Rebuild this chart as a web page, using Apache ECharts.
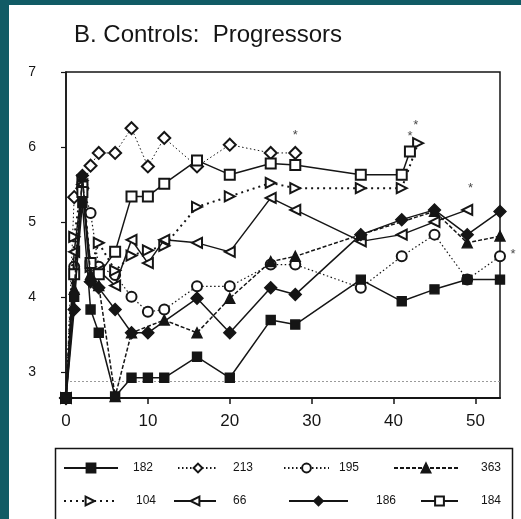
<!DOCTYPE html>
<html>
<head>
<meta charset="utf-8">
<script src="https://cdn.jsdelivr.net/npm/echarts@6/dist/echarts.min.js"></script>
<style>
  html, body { margin: 0; padding: 0; }
  #chart { width: 521px; height: 519px; }
</style>
</head>
<body>
<div id="chart"></div>
<script>
// Weeks of follow-up and measured values per subject
const weeks182 = [0, 1, 2, 3, 4, 6, 8, 10, 12, 16, 20, 25, 28, 36, 41, 45, 49, 53];
const vals182  = [2.65, 4.0, 5.25, 3.83, 3.52, 2.67, 2.92, 2.92, 2.92, 3.2, 2.92, 3.69, 3.63, 4.23, 3.94, 4.1, 4.23, 4.23];

const weeks213 = [0, 1, 2, 3, 4, 6, 8, 10, 12, 16, 20, 25, 28];
const vals213  = [2.65, 5.33, 5.45, 5.75, 5.92, 5.92, 6.25, 5.74, 6.12, 5.74, 6.03, 5.92, 5.92];

const weeks195 = [0, 1, 2, 3, 4, 6, 8, 10, 12, 16, 20, 25, 28, 36, 41, 45, 49, 53];
const vals195  = [2.65, 4.4, 5.5, 5.12, 4.4, 4.29, 4.0, 3.8, 3.83, 4.14, 4.14, 4.43, 4.43, 4.12, 4.54, 4.83, 4.23, 4.54];

const weeks363 = [0, 1, 2, 3, 4, 6, 8, 12, 16, 20, 25, 28, 36, 45, 49, 53];
const vals363  = [2.65, 4.1, 5.6, 4.3, 4.15, 2.67, 3.52, 3.69, 3.52, 3.98, 4.47, 4.54, 4.83, 5.14, 4.72, 4.81];

const weeks104 = [0, 1, 2, 3, 4, 6, 8, 10, 12, 16, 20, 25, 28, 36, 41, 43];
const vals104  = [2.65, 4.8, 5.55, 4.4, 4.72, 4.35, 4.55, 4.62, 4.68, 5.2, 5.34, 5.52, 5.45, 5.45, 5.45, 6.05];

const weeks66 = [0, 1, 2, 3, 4, 6, 8, 10, 12, 16, 20, 25, 28, 36, 41, 45, 49];
const vals66  = [2.65, 4.6, 5.5, 4.2, 4.35, 4.15, 4.76, 4.45, 4.76, 4.72, 4.6, 5.32, 5.16, 4.74, 4.83, 5.0, 5.16];

const weeks186 = [0, 1, 2, 3, 4, 6, 8, 10, 16, 20, 25, 28, 36, 41, 45, 49, 53];
const vals186  = [2.65, 3.83, 5.62, 4.2, 4.12, 3.83, 3.52, 3.52, 3.98, 3.52, 4.12, 4.03, 4.83, 5.03, 5.16, 4.83, 5.14];

const weeks184 = [0, 1, 2, 3, 4, 6, 8, 10, 12, 16, 20, 25, 28, 36, 41, 42];
const vals184  = [2.65, 4.3, 5.4, 4.45, 4.3, 4.6, 5.34, 5.34, 5.51, 5.82, 5.63, 5.78, 5.76, 5.63, 5.63, 5.94];

// Significance asterisks (week, level)
const starWeeks = [28, 42, 42.7, 49.4, 54.6];
const starVals  = [6.15, 6.14, 6.29, 5.45, 4.56];

// Reference level drawn as a faint dotted line
const baselineLevel = 2.87;

const xTicks = [0, 10, 20, 30, 40, 50];
const yTicks = [3, 4, 5, 6, 7];

const titleText = 'B. Controls:  Progressors';

const ink = '#151515';
const font = 'Liberation Sans, Arial, sans-serif';

function pairs(xs, ys) { return xs.map((x, i) => [x, ys[i]]); }

// Per-subject drawing style, stacking order and legend slot
const subjects = [
  { name: '182', xs: weeks182, ys: vals182, symbol: 'rect', size: 9, rot: 0, line: 'solid', lw: 1.5, z: 11,
    leg: { left: 63, top: 462, w: 54, gap: 10 } },
  { name: '213', xs: weeks213, ys: vals213, symbol: 'emptyDiamond', size: 12, rot: 0, line: [1.5, 2.5], lw: 1, z: 5,
    leg: { left: 177, top: 462, w: 40, gap: 10 } },
  { name: '195', xs: weeks195, ys: vals195, symbol: 'emptyCircle', size: 10, rot: 0, line: [1.5, 2.5], lw: 1.2, z: 4,
    leg: { left: 283, top: 462, w: 45, gap: 5 } },
  { name: '363', xs: weeks363, ys: vals363, symbol: 'triangle', size: 10, rot: 0, line: [4, 2], lw: 1.5, z: 9,
    leg: { left: 393, top: 462, w: 64, gap: 18 } },
  { name: '104', xs: weeks104, ys: vals104, symbol: 'emptyTriangle', size: 10, rot: -90, line: [2, 4], lw: 2, z: 6,
    leg: { left: 63, top: 495, w: 52, gap: 15 } },
  { name: '66', xs: weeks66, ys: vals66, symbol: 'emptyTriangle', size: 10, rot: 90, line: 'solid', lw: 1.5, z: 7,
    leg: { left: 173, top: 495, w: 42, gap: 12 } },
  { name: '186', xs: weeks186, ys: vals186, symbol: 'diamond', size: 12, rot: 0, line: 'solid', lw: 1.5, z: 10,
    leg: { left: 288, top: 495, w: 59, gap: 23 } },
  { name: '184', xs: weeks184, ys: vals184, symbol: 'emptyRect', size: 10, rot: 0, line: 'solid', lw: 1.5, z: 8,
    leg: { left: 420, top: 495, w: 37, gap: 18 } }
];

const series = subjects.map((s, i) => {
  const ser = {
    name: s.name,
    type: 'line',
    data: pairs(s.xs, s.ys),
    symbol: s.symbol,
    symbolSize: s.size,
    symbolRotate: s.rot,
    showAllSymbol: true,
    clip: false,
    color: ink,
    lineStyle: { color: ink, width: s.lw, type: s.line },
    itemStyle: { color: ink, borderColor: ink, borderWidth: 1.4 },
    emphasis: { disabled: true },
    z: s.z
  };
  if (i === 0) {
    ser.markLine = {
      silent: true,
      symbol: 'none',
      label: { show: false },
      lineStyle: { color: '#9a9a9a', type: [2, 2], width: 1 },
      data: [{ yAxis: baselineLevel }]
    };
  }
  return ser;
});

series.push({
  name: 'stars',
  type: 'scatter',
  data: pairs(starWeeks, starVals),
  symbolSize: 1,
  itemStyle: { color: 'rgba(0,0,0,0)' },
  clip: false,
  label: {
    show: true, position: 'inside', formatter: '*',
    color: ink, fontSize: 13, fontFamily: font
  },
  z: 20
});

const legends = subjects.map(s => ({
  data: [s.name],
  left: s.leg.left,
  top: s.leg.top,
  padding: 0,
  itemWidth: s.leg.w,
  itemHeight: 11,
  selectedMode: false,
  textStyle: { color: ink, fontSize: 12, fontFamily: font, padding: [0, 0, 0, s.leg.gap] }
}));

const chart = echarts.init(document.getElementById('chart'), null, { renderer: 'canvas' });
chart.setOption({
  backgroundColor: '#115b65',
  animation: false,
  graphic: [
    { type: 'rect', left: 9, top: 5, z: -100, silent: true,
      shape: { width: 512, height: 514 }, style: { fill: '#ffffff' } },
    { type: 'rect', left: 53, top: 446, z: -90, silent: true,
      shape: { width: 457, height: 90 }, style: { fill: 'none', stroke: ink, lineWidth: 1.5 } }
  ],
  title: {
    text: titleText,
    left: 69, top: 18,
    textStyle: { color: ink, fontSize: 24, fontWeight: 'normal', fontFamily: font }
  },
  legend: legends,
  grid: {
    left: 66, top: 72, right: 21, bottom: 121,
    show: true, borderColor: ink, borderWidth: 1.5, backgroundColor: 'transparent'
  },
  xAxis: {
    type: 'value',
    min: 0, max: 53,
    splitLine: { show: false },
    axisLine: { onZero: false, lineStyle: { color: ink, width: 2 } },
    axisTick: { show: true, length: 6, customValues: xTicks, lineStyle: { color: ink, width: 1.5 } },
    axisLabel: { customValues: xTicks, color: ink, fontSize: 17, fontFamily: font, margin: 15 }
  },
  yAxis: {
    type: 'value',
    min: 2.65, max: 7,
    splitLine: { show: false },
    axisLine: { show: true, onZero: false, lineStyle: { color: ink, width: 1.5 } },
    axisTick: { show: true, length: 5, customValues: yTicks, lineStyle: { color: ink, width: 1.2 } },
    axisLabel: { customValues: yTicks, color: ink, fontSize: 14, fontFamily: font, margin: 30 }
  },
  series: series
});
</script>
</body>
</html>
